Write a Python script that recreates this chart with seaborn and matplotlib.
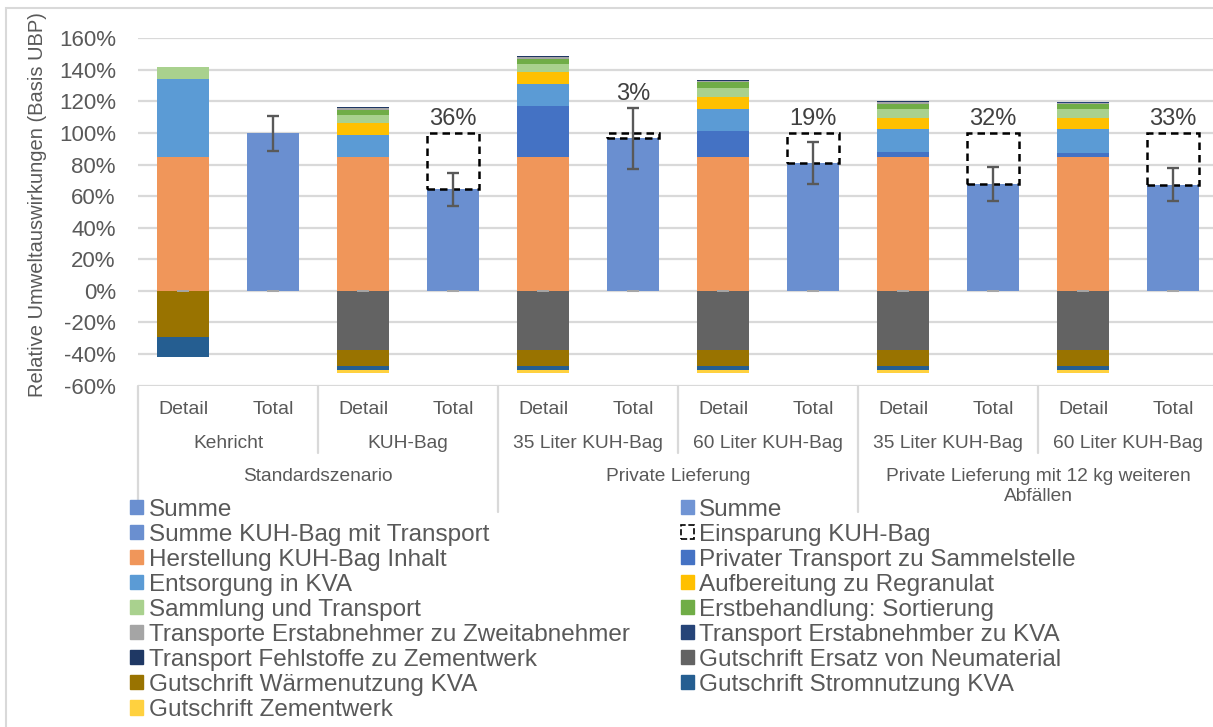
import numpy as np
import pandas as pd
import seaborn as sns
import matplotlib.pyplot as plt
from matplotlib.patches import Patch, Rectangle
from matplotlib import transforms

# Balken: Detail / Total je Variante
bar_labels = ["Detail", "Total"] * 6
groups = ["Kehricht", "KUH-Bag", "35 Liter KUH-Bag", "60 Liter KUH-Bag",
          "35 Liter KUH-Bag", "60 Liter KUH-Bag"]
scenarios = ["Standardszenario", "Private Lieferung",
             "Private Lieferung mit 12 kg weiteren\nAbfällen"]
groups_per_scenario = [2, 2, 2]

# Detail-Balken (Anteile in %)
herstellung = [84.6, 84.6, 84.6, 84.6, 84.6, 84.6]
privater_transport = [0, 0, 32.2, 16.4, 3.4, 2.9]
entsorgung = [49.9, 14.3, 14.5, 14.5, 14.3, 14.8]
aufbereitung = [0, 7.4, 7.2, 7.6, 7.3, 7.1]
sammlung = [7.2, 5.2, 5.4, 5.1, 5.3, 5.5]
erstbehandlung = [0, 3.2, 3.2, 3.8, 3.4, 3.2]
transport_zweit = [0, 1.0, 1.0, 0.8, 1.2, 1.1]
transport_kva = [0, 0.3, 0.3, 0.3, 0.3, 0.3]
transport_fehl = [0, 0.2, 0.2, 0.2, 0.2, 0.2]
gs_neumaterial = [0, -37.3, -37.3, -37.3, -37.3, -37.3]
gs_waerme = [-29.0, -10.1, -10.1, -10.1, -10.1, -10.1]
gs_strom = [-12.8, -2.5, -2.5, -2.5, -2.5, -2.5]
gs_zement = [0, -2.3, -2.3, -2.3, -2.3, -2.3]

# Total-Balken
totals = [100, 64.2, 96.8, 80.8, 67.6, 67.3]
err_low = [88.8, 53.9, 77.4, 67.8, 57.0, 56.6]
err_high = [110.5, 74.7, 116.0, 94.1, 78.3, 78.1]
savings_labels = ["", "36%", "3%", "19%", "32%", "33%"]
reference = 100

yticks = list(range(-60, 161, 20))

positive = [
    ("Herstellung KUH-Bag Inhalt", herstellung, "#F0965A"),
    ("Privater Transport zu Sammelstelle", privater_transport, "#4472C4"),
    ("Entsorgung in KVA", entsorgung, "#5B9BD5"),
    ("Aufbereitung zu Regranulat", aufbereitung, "#FFC000"),
    ("Sammlung und Transport", sammlung, "#A9D18E"),
    ("Erstbehandlung: Sortierung", erstbehandlung, "#70AD47"),
    ("Transporte Erstabnehmer zu Zweitabnehmer", transport_zweit, "#A5A5A5"),
    ("Transport Erstabnehmber zu KVA", transport_kva, "#264478"),
    ("Transport Fehlstoffe zu Zementwerk", transport_fehl, "#1F3864"),
]
negative = [
    ("Gutschrift Ersatz von Neumaterial", gs_neumaterial, "#636363"),
    ("Gutschrift Wärmenutzung KVA", gs_waerme, "#997300"),
    ("Gutschrift Stromnutzung KVA", gs_strom, "#255E91"),
    ("Gutschrift Zementwerk", gs_zement, "#FFD13F"),
]
sum_color = "#6A8FD0"
text_color = "#595959"

sns.set_theme(style="whitegrid")
plt.rcParams["font.family"] = ["Liberation Sans", "DejaVu Sans"]

fig = plt.figure(figsize=(12.13, 7.27), dpi=100)
ax = fig.add_axes([138 / 1213, 1 - 385.5 / 727, 1080 / 1213, (385.5 - 38.3) / 727])

pos = np.arange(len(bar_labels))
detail_pos = pos[0::2]
total_pos = pos[1::2]
w = 0.57

# gestapelte Detail-Balken
bottom = np.zeros(len(detail_pos))
for name, vals, col in positive:
    vals = np.array(vals, dtype=float)
    ax.bar(detail_pos, vals, w, bottom=bottom, color=col, linewidth=0, zorder=2)
    bottom += vals
bottom = np.zeros(len(detail_pos))
for name, vals, col in negative:
    vals = np.array(vals, dtype=float)
    ax.bar(detail_pos, vals, w, bottom=bottom, color=col, linewidth=0, zorder=2)
    bottom += vals

# Total-Balken
df_tot = pd.DataFrame({"pos": total_pos, "total": totals})
sns.barplot(data=df_tot, x="pos", y="total", native_scale=True, width=w / 2,
            color=sum_color, saturation=1, linewidth=0, errorbar=None, ax=ax, zorder=2)

tot = np.array(totals, dtype=float)
ax.errorbar(total_pos, tot, yerr=[tot - np.array(err_low), np.array(err_high) - tot],
            fmt="none", ecolor="#595959", elinewidth=1.7, capsize=4, capthick=1.7, zorder=4)
ax.errorbar(pos, np.zeros(len(pos)), yerr=np.zeros(len(pos)), fmt="none",
            ecolor="#A6A6A6", capsize=4, capthick=1.2, zorder=4)

# Einsparung KUH-Bag
for x, t, hi, lab in zip(total_pos, tot, err_high, savings_labels):
    if not lab:
        continue
    ax.bar(x, reference - t, w, bottom=t, fill=False, edgecolor="black",
           linestyle=(0, (3, 2)), linewidth=1.8, zorder=3)
    ax.text(x, max(reference, hi) + 2, lab, ha="center", va="bottom",
            fontsize=17, color="#404040")

ax.set_ylim(-60, 160)
ax.set_xlim(-0.5, len(pos) - 0.5)
ax.set_yticks(yticks)
ax.set_yticklabels([f"{v}%" for v in yticks])
ax.set_xticks([])
ax.set_xlabel("")
ax.tick_params(axis="y", length=0, pad=16, labelsize=16, labelcolor=text_color)
ax.grid(axis="y", color="#D9D9D9", linewidth=1.6)
ax.grid(axis="x", visible=False)
for s in ax.spines.values():
    s.set_visible(False)
ax.set_ylabel("Relative Umweltauswirkungen (Basis UBP)", fontsize=14.5, color=text_color)
ax.yaxis.set_label_coords(-0.084, 0.52)

# mehrstufige Kategorienachse
trans = transforms.blended_transform_factory(ax.transData, fig.transFigure)
fy = lambda px: 1 - px / 727
for x, lab in zip(pos, bar_labels):
    ax.text(x, fy(409), lab, transform=trans, ha="center", va="center",
            fontsize=14, color=text_color)
for i, g in enumerate(groups):
    ax.text(2 * i + 0.5, fy(443), g, transform=trans, ha="center", va="center",
            fontsize=13.8, color=text_color)
start = 0
for sc, n in zip(scenarios, groups_per_scenario):
    ax.text(2 * start + n - 0.5, fy(468), sc, transform=trans, ha="center", va="top",
            fontsize=13.8, color=text_color, linespacing=1.25)
    start += n

for b in range(len(groups) + 1):
    xb = 2 * b - 0.5
    long_line = b == 0 or b in np.cumsum(groups_per_scenario)
    y_end = 512 if long_line else 453
    ax.plot([xb, xb], [fy(385.5), fy(y_end)], transform=trans, color="#D9D9D9",
            linewidth=1.6, clip_on=False)

# Legende
handles = [
    Patch(color=sum_color, label="Summe"),
    Patch(color="#7094D4", label="Summe"),
    Patch(color=sum_color, label="Summe KUH-Bag mit Transport"),
    Patch(facecolor="white", edgecolor="black", linestyle="--", linewidth=1.2,
          label="Einsparung KUH-Bag"),
]
order = [positive[0], positive[1], positive[2], positive[3], positive[4], positive[5],
         positive[6], positive[7], positive[8], negative[0], negative[1], negative[2],
         negative[3]]
for name, vals, col in order:
    handles.append(Patch(color=col, label=name))
handles = handles[0::2] + handles[1::2]
leg = fig.legend(handles=handles, loc="upper left", bbox_to_anchor=(130 / 1213, fy(498.5)),
                 ncol=2, frameon=False, fontsize=17.5, handlelength=0.55, handleheight=0.55,
                 handletextpad=0.22, labelspacing=0.125, columnspacing=2.1,
                 borderaxespad=0, borderpad=0)
for t in leg.get_texts():
    t.set_color(text_color)

fig.patches.append(Rectangle((6 / 1213, -0.05), 1.1, fy(8) + 0.05, transform=fig.transFigure,
                             fill=False, edgecolor="#D9D9D9", linewidth=1.5))

plt.savefig("out.png", dpi=100)
